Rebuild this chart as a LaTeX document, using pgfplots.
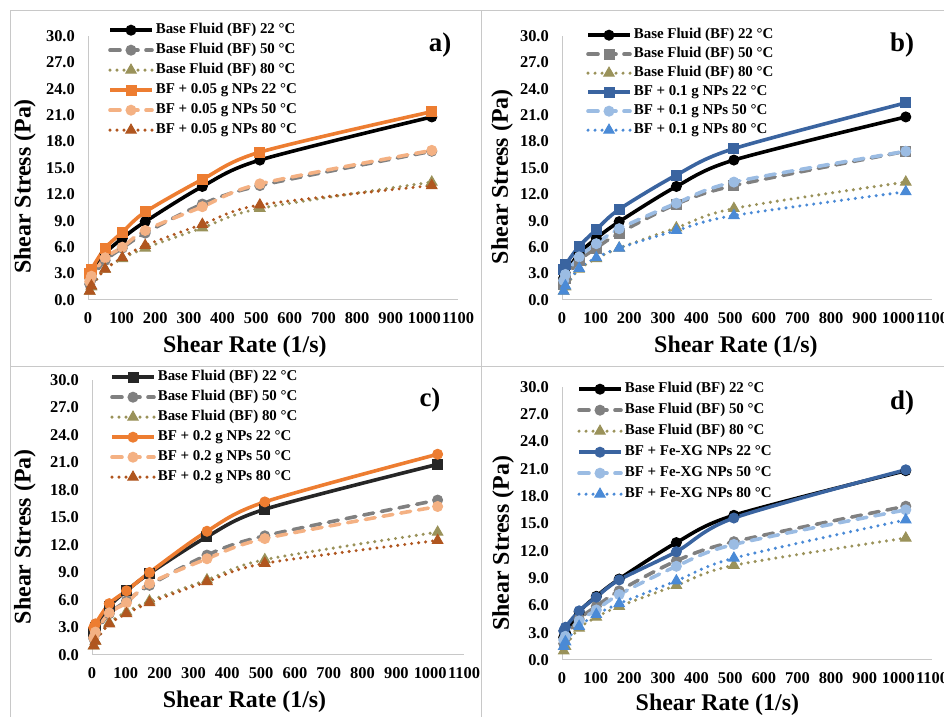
\documentclass[border=0pt]{standalone}
\usepackage{fontspec}
\setmainfont{Liberation Serif}
\usepackage{pgfplots}
\usepackage{pgfplotstable}
\pgfplotsset{compat=1.18}

\definecolor{cGrey}{HTML}{808080}
\definecolor{cOlive}{HTML}{9A925A}
\definecolor{cOrange}{HTML}{ED7D31}
\definecolor{cLOrange}{HTML}{F4B183}
\definecolor{cBrown}{HTML}{B0561F}
\definecolor{cBlue}{HTML}{3A64A0}
\definecolor{cLBlue}{HTML}{9BBCE3}
\definecolor{cDBlue}{HTML}{4A8AD6}
\definecolor{cFrame}{HTML}{C8C8C8}

\pgfplotstableread{
x    bf22 bf50 bf80
5.1  2.5  1.8  1.0
10.2 3.0  2.4  1.5
51   5.3  4.5  3.5
102  7.0  5.9  4.7
170  8.9  7.6  5.9
340  12.9 10.9 8.2
511  15.9 13.0 10.4
1022 20.8 16.9 13.4
}\bftable

\pgfplotstableread{
x    n22  n50  n80
5.1  3.0  2.1  1.0
10.2 3.5  2.7  1.6
51   5.9  4.8  3.5
102  7.7  6.0  4.8
170  10.0 7.9  6.2
340  13.7 10.6 8.6
511  16.8 13.2 10.8
1022 21.4 17.0 13.0
}\tableA

\pgfplotstableread{
x    n22  n50  n80
5.1  3.5  2.2  1.0
10.2 4.0  2.9  1.6
51   6.1  4.9  3.6
102  8.0  6.4  4.8
170  10.3 8.1  5.9
340  14.2 11.0 7.9
511  17.2 13.4 9.6
1022 22.4 16.9 12.3
}\tableB

\pgfplotstableread{
x    n22  n50  n80
5.1  3.0  1.9  1.0
10.2 3.4  2.5  1.5
51   5.6  4.6  3.4
102  7.0  5.7  4.5
170  9.0  7.8  5.7
340  13.5 10.5 8.0
511  16.7 12.7 10.0
1022 21.9 16.2 12.5
}\tableC

\pgfplotstableread{
x    n22  n50  n80
5.1  3.2  2.2  1.5
10.2 3.6  2.6  2.0
51   5.4  4.3  3.7
102  6.9  5.5  5.0
170  8.8  7.2  6.2
340  11.9 10.3 8.7
511  15.6 12.7 11.2
1022 20.9 16.5 15.4
}\tableD

\pgfplotsset{
  panel/.style={
    scale only axis, width=370bp, height=264bp,
    xmin=0, xmax=1100, ymin=0, ymax=30,
    axis x line=bottom, axis y line=left,
    axis line style={-, draw=cFrame, line width=1bp},
    xtick={0,100,...,1100}, ytick={0,3,...,30},
    major tick length=0pt,
    /pgf/number format/assume math mode=true,
    tick label style={font=\fontsize{16.5}{16.5}\selectfont\bfseries, inner sep=0pt},
    yticklabel style={/pgf/number format/fixed, /pgf/number format/fixed zerofill, /pgf/number format/precision=1, anchor=east, xshift=-13bp},
    xticklabel style={/pgf/number format/fixed, /pgf/number format/1000 sep={}, anchor=north, yshift=-12bp},
    label style={font=\fontsize{24}{24}\selectfont\bfseries},
    xlabel={Shear Rate (1/s)}, ylabel={Shear Stress (Pa)},
    clip=false,
    legend cell align=left,
    legend style={draw=none, fill=none, font=\fontsize{15}{15}\selectfont\bfseries,
      row sep=6bp, inner sep=0pt,
      nodes={inner ysep=0pt, inner xsep=2bp, text height=10.5bp, text depth=3.5bp}},
    legend image code/.code={\draw[mark repeat=2,mark phase=2] plot coordinates {(0bp,0bp) (21bp,0bp) (42bp,0bp)};},
  },
  s22/.style={line width=3.6bp, smooth, tension=0.5, mark size=5bp, mark options={solid, line width=1bp}},
  s50/.style={line width=3.6bp, smooth, tension=0.5, dash pattern=on 10bp off 8bp, line cap=round, mark size=5bp, mark options={solid, line width=1bp}},
  s80/.style={line width=3.4bp, smooth, tension=0.5, dash pattern=on 0bp off 7bp, line cap=round, mark=triangle*, mark size=6bp, mark options={solid, line width=1bp}},
}

\begin{document}
\begin{tikzpicture}[x=1bp, y=1bp]
\useasboundingbox (0,0) rectangle (944,717);
% frame lines
\draw[cFrame, line width=1bp] (10,-2) -- (10,706) -- (946,706);
\draw[cFrame, line width=1bp] (481.5,-2) -- (481.5,706);
\draw[cFrame, line width=1bp] (10,350) -- (946,350);

% ---------- a) ----------
\begin{axis}[panel, at={(88bp,417bp)}, anchor=south west, width=370bp, height=264bp,
  xlabel style={at={([yshift=-47bp]axis description cs:0.424,0)}, anchor=center},
  ylabel style={at={([xshift=-63bp]axis description cs:0,0.43)}, anchor=center},
  legend style={at={([xshift=20bp,yshift=13bp]axis description cs:0,1)}, anchor=north west}]
\addplot[s22, color=black, mark=*] table[x=x,y=bf22]{\bftable};
\addlegendentry{Base Fluid (BF) 22 °C}
\addplot[s50, color=cGrey, mark=*] table[x=x,y=bf50]{\bftable};
\addlegendentry{Base Fluid (BF) 50 °C}
\addplot[s80, color=cOlive] table[x=x,y=bf80]{\bftable};
\addlegendentry{Base Fluid (BF) 80 °C}
\addplot[s22, color=cOrange, mark=square*] table[x=x,y=n22]{\tableA};
\addlegendentry{BF + 0.05 g NPs 22 °C}
\addplot[s50, color=cLOrange, mark=*] table[x=x,y=n50]{\tableA};
\addlegendentry{BF + 0.05 g NPs 50 °C}
\addplot[s80, color=cBrown] table[x=x,y=n80]{\tableA};
\addlegendentry{BF + 0.05 g NPs 80 °C}
\end{axis}
\node[font=\fontsize{27}{27}\selectfont\bfseries] at (440,672) {a)};

% ---------- b) ----------
\begin{axis}[panel, at={(562bp,417bp)}, anchor=south west, width=370bp, height=264bp,
  xlabel style={at={([yshift=-47bp]axis description cs:0.47,0)}, anchor=center},
  ylabel style={at={([xshift=-60bp]axis description cs:0,0.467)}, anchor=center},
  legend style={at={([xshift=24bp,yshift=8bp]axis description cs:0,1)}, anchor=north west, row sep=5bp}]
\addplot[s22, color=black, mark=*] table[x=x,y=bf22]{\bftable};
\addlegendentry{Base Fluid (BF) 22 °C}
\addplot[s50, color=cGrey, mark=square*] table[x=x,y=bf50]{\bftable};
\addlegendentry{Base Fluid (BF) 50 °C}
\addplot[s80, color=cOlive] table[x=x,y=bf80]{\bftable};
\addlegendentry{Base Fluid (BF) 80 °C}
\addplot[s22, color=cBlue, mark=square*] table[x=x,y=n22]{\tableB};
\addlegendentry{BF + 0.1 g NPs 22 °C}
\addplot[s50, color=cLBlue, mark=*] table[x=x,y=n50]{\tableB};
\addlegendentry{BF + 0.1 g NPs 50 °C}
\addplot[s80, color=cDBlue] table[x=x,y=n80]{\tableB};
\addlegendentry{BF + 0.1 g NPs 80 °C}
\end{axis}
\node[font=\fontsize{27}{27}\selectfont\bfseries] at (902,672) {b)};

% ---------- c) ----------
\begin{axis}[panel, at={(92bp,62bp)}, anchor=south west, width=372bp, height=275bp,
  xlabel style={at={([yshift=-47bp]axis description cs:0.41,0)}, anchor=center},
  ylabel style={at={([xshift=-67bp]axis description cs:0,0.43)}, anchor=center},
  legend style={at={([xshift=18bp,yshift=10bp]axis description cs:0,1)}, anchor=north west}]
\addplot[s22, color=black!85, mark=square*] table[x=x,y=bf22]{\bftable};
\addlegendentry{Base Fluid (BF) 22 °C}
\addplot[s50, color=cGrey, mark=*] table[x=x,y=bf50]{\bftable};
\addlegendentry{Base Fluid (BF) 50 °C}
\addplot[s80, color=cOlive] table[x=x,y=bf80]{\bftable};
\addlegendentry{Base Fluid (BF) 80 °C}
\addplot[s22, color=cOrange, mark=*] table[x=x,y=n22]{\tableC};
\addlegendentry{BF + 0.2 g NPs 22 °C}
\addplot[s50, color=cLOrange, mark=*] table[x=x,y=n50]{\tableC};
\addlegendentry{BF + 0.2 g NPs 50 °C}
\addplot[s80, color=cBrown] table[x=x,y=n80]{\tableC};
\addlegendentry{BF + 0.2 g NPs 80 °C}
\end{axis}
\node[font=\fontsize{27}{27}\selectfont\bfseries] at (430,317) {c)};

% ---------- d) ----------
\begin{axis}[panel, at={(562bp,57bp)}, anchor=south west, width=370bp, height=273bp,
  xlabel style={at={([yshift=-45bp]axis description cs:0.42,0)}, anchor=center},
  ylabel style={at={([xshift=-59bp]axis description cs:0,0.427)}, anchor=center},
  legend style={at={([xshift=15bp,yshift=5bp]axis description cs:0,1)}, anchor=north west, row sep=7bp}]
\addplot[s22, color=black, mark=*] table[x=x,y=bf22]{\bftable};
\addlegendentry{Base Fluid (BF) 22 °C}
\addplot[s50, color=cGrey, mark=*] table[x=x,y=bf50]{\bftable};
\addlegendentry{Base Fluid (BF) 50 °C}
\addplot[s80, color=cOlive] table[x=x,y=bf80]{\bftable};
\addlegendentry{Base Fluid (BF) 80 °C}
\addplot[s22, color=cBlue, mark=*] table[x=x,y=n22]{\tableD};
\addlegendentry{BF + Fe-XG NPs 22 °C}
\addplot[s50, color=cLBlue, mark=*] table[x=x,y=n50]{\tableD};
\addlegendentry{BF + Fe-XG NPs 50 °C}
\addplot[s80, color=cDBlue] table[x=x,y=n80]{\tableD};
\addlegendentry{BF + Fe-XG NPs 80 °C}
\end{axis}
\node[font=\fontsize{27}{27}\selectfont\bfseries] at (902,314) {d)};
\end{tikzpicture}
\end{document}
